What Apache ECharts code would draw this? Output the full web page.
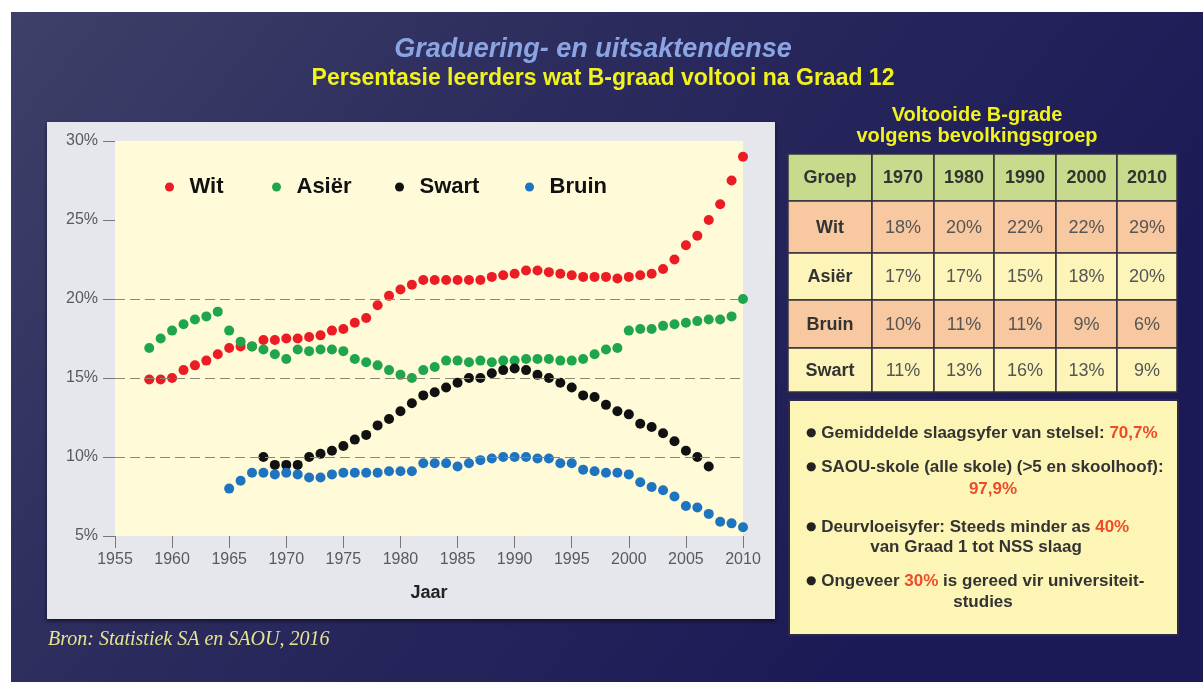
<!DOCTYPE html>
<html><head><meta charset="utf-8">
<script src="https://cdn.jsdelivr.net/npm/echarts@6/dist/echarts.min.js"></script>
<style>html,body{margin:0;padding:0;background:#fff;}#c{width:1203px;height:682px;}</style>
</head><body><div id="c"></div>
<script>
// ---------- data ----------
const witStart = 1958;
const wit = [14.9,14.9,15.0,15.5,15.8,16.1,16.5,16.9,17.0,17.0,
             17.4,17.4,17.5,17.5,17.6,17.7,18.0,18.1,18.5,18.8,
             19.6,20.2,20.6,20.9,21.2,21.2,21.2,21.2,21.2,21.2,
             21.4,21.5,21.6,21.8,21.8,21.7,21.6,21.5,21.4,21.4,
             21.4,21.3,21.4,21.5,21.6,21.9,22.5,23.4,24.0,25.0,
             26.0,27.5,29.0];
const asierStart = 1958;
const asier = [16.9,17.5,18.0,18.4,18.7,18.9,19.2,18.0,17.3,17.0,
               16.8,16.5,16.2,16.8,16.7,16.8,16.8,16.7,16.2,16.0,
               15.8,15.5,15.2,15.0,15.5,15.7,16.1,16.1,16.0,16.1,
               16.0,16.1,16.1,16.2,16.2,16.2,16.1,16.1,16.2,16.5,
               16.8,16.9,18.0,18.1,18.1,18.3,18.4,18.5,18.6,18.7,
               18.7,18.9,20.0];
const swartStart = 1968;
const swart = [10.0,9.5,9.5,9.5,10.0,10.2,10.4,10.7,11.1,11.4,
               12.0,12.4,12.9,13.4,13.9,14.1,14.4,14.7,15.0,15.0,
               15.3,15.5,15.6,15.5,15.2,15.0,14.7,14.4,13.9,13.8,
               13.3,12.9,12.7,12.1,11.9,11.5,11.0,10.4,10.0,9.4];
const bruinStart = 1965;
const bruin = [8.0,8.5,9.0,9.0,8.9,9.0,8.9,8.7,8.7,8.9,
               9.0,9.0,9.0,9.0,9.1,9.1,9.1,9.6,9.6,9.6,
               9.4,9.6,9.8,9.9,10.0,10.0,10.0,9.9,9.9,9.6,
               9.6,9.2,9.1,9.0,9.0,8.9,8.4,8.1,7.9,7.5,
               6.9,6.8,6.4,5.9,5.8,5.55];
const seriesNames = ['Wit', 'Asiër', 'Swart', 'Bruin'];
const gridLevels = [10, 15, 20];

const tableTitle = ['Voltooide B-grade', 'volgens bevolkingsgroep'];
const tableHeader = ['Groep', '1970', '1980', '1990', '2000', '2010'];
const tableGroups = ['Wit', 'Asiër', 'Bruin', 'Swart'];
const tableWit   = ['18%', '20%', '22%', '22%', '29%'];
const tableAsier = ['17%', '17%', '15%', '18%', '20%'];
const tableBruin = ['10%', '11%', '11%', '9%', '6%'];
const tableSwart = ['11%', '13%', '16%', '13%', '9%'];

const titleMain = 'Graduering- en uitsaktendense';
const titleSub = 'Persentasie leerders wat B-graad voltooi na Graad 12';
const sourceText = 'Bron: Statistiek SA en SAOU, 2016';
const noteLines = [
  '{bl|●} {t|Gemiddelde slaagsyfer van stelsel: }{r|70,7%}',
  '{bl|●} {t|SAOU-skole (alle skole) (>5 en skoolhoof):}',
  '{r|97,9%}',
  '{bl|●} {t|Deurvloeisyfer: Steeds minder as }{r|40%}',
  '{t|van Graad 1 tot NSS slaag}',
  '{bl|●} {t|Ongeveer }{r|30%}{t| is gereed vir universiteit-}',
  '{t|studies}'
];

// ---------- chart ----------
const FONT = '"Liberation Sans", Arial, sans-serif';
const COLORS = ['#ec1c24', '#1fa54c', '#111111', '#1e74bf'];
function pairs(start, vals) { return vals.map((v, i) => [start + i, v]); }
const seriesData = [pairs(witStart, wit), pairs(asierStart, asier), pairs(swartStart, swart), pairs(bruinStart, bruin)];

const chart = echarts.init(document.getElementById('c'));

const graphics = [];
// background
graphics.push({type:'rect', z:-100, shape:{x:11, y:12, width:1192, height:670},
  style:{fill:new echarts.graphic.LinearGradient(0,0,0.7,1,[
    {offset:0,color:'#3f4068'},{offset:0.45,color:'#2b2b5d'},{offset:1,color:'#1c1a56'}])}});
// chart panel
graphics.push({type:'rect', z:-90, shape:{x:47, y:122, width:728, height:497},
  style:{fill:'#e5e7ec', shadowBlur:4, shadowOffsetY:2, shadowColor:'rgba(0,0,0,0.6)'}});
// titles
graphics.push({type:'text', x:593, y:50, style:{text:titleMain, fill:'#8ba5e2',
  font:'italic bold 27px ' + FONT, align:'center', verticalAlign:'middle'}});
graphics.push({type:'text', x:603, y:79, style:{text:titleSub, fill:'#f2f21c',
  font:'bold 23px ' + FONT, align:'center', verticalAlign:'middle'}});
// table title
tableTitle.forEach((t, i) => graphics.push({type:'text', x:977, y:115 + i*21,
  style:{text:t, fill:'#f2f21c', font:'bold 20px ' + FONT, align:'center', verticalAlign:'middle'}}));
// table
const colX = [788, 872, 934, 994, 1056, 1117, 1177];
const rowY = [154, 201, 253, 300, 348, 392];
const rowFill = ['#c8db8d', '#f8c9a1', '#fcf4b9', '#f8c9a1', '#fcf4b9'];
const tableRows = [tableHeader,
  [tableGroups[0]].concat(tableWit),
  [tableGroups[1]].concat(tableAsier),
  [tableGroups[2]].concat(tableBruin),
  [tableGroups[3]].concat(tableSwart)];
tableRows.forEach((row, r) => {
  row.forEach((cell, c) => {
    const x0 = colX[c], x1 = colX[c+1], y0 = rowY[r], y1 = rowY[r+1];
    graphics.push({type:'rect', shape:{x:x0, y:y0, width:x1-x0, height:y1-y0},
      style:{fill:rowFill[r], stroke:'#33323f', lineWidth:1.5}});
    const bold = (r === 0 || c === 0);
    graphics.push({type:'text', x:(x0+x1)/2, y:(y0+y1)/2 + 1,
      style:{text:cell, fill: bold ? '#333333' : '#555555',
        font:(bold ? 'bold ' : '') + '18px ' + FONT, align:'center', verticalAlign:'middle'}});
  });
});
// notes box
graphics.push({type:'rect', shape:{x:789, y:400, width:389, height:235},
  style:{fill:'#fdf5b5', stroke:'#2b2b45', lineWidth:2}});
const richStyle = {
  bl:{fontSize:12, fill:'#222', color:'#222', fontFamily:'"DejaVu Sans", sans-serif'},
  t:{fontSize:17, fontWeight:'bold', fill:'#333', color:'#333', fontFamily:FONT},
  r:{fontSize:17, fontWeight:'bold', fill:'#ee4b2b', color:'#ee4b2b', fontFamily:FONT}
};
const noteX = [806, 806, 993, 806, 976, 806, 983];
const noteY = [433, 467, 489, 527, 547, 581, 602];
noteLines.forEach((ln, i) => {
  const left = ln.indexOf('{bl|') === 0;
  graphics.push({type:'text', x:noteX[i], y:noteY[i], style:{text:ln, rich:richStyle,
    font:'bold 17px ' + FONT, align:left ? 'left' : 'center', verticalAlign:'middle'}});
});
// source
graphics.push({type:'text', x:48, y:640, style:{text:sourceText, fill:'#e6e48e',
  font:'italic 20px "Liberation Serif", "Times New Roman", serif', align:'left', verticalAlign:'middle',
  shadowBlur:2, shadowColor:'rgba(0,0,0,0.8)', shadowOffsetX:1, shadowOffsetY:1}});

const legendLeft = [165, 272, 395, 525];

const option = {
  backgroundColor:'#ffffff',
  animation:false,
  grid:{left:115, top:141, width:628, height:395, show:true, backgroundColor:'#fffad8', borderWidth:0},
  xAxis:{type:'value', min:1955, max:2010, interval:5,
    name:'Jaar', nameLocation:'middle', nameGap:48,
    nameTextStyle:{fontSize:18, fontWeight:'bold', color:'#222', fontFamily:FONT},
    axisLine:{show:false},
    axisTick:{show:true, length:12, lineStyle:{color:'#777'}},
    axisLabel:{margin:16, fontSize:16, color:'#5a5a5a', fontFamily:FONT, formatter: v => String(v)},
    splitLine:{show:false}},
  yAxis:{type:'value', min:5, max:30, interval:5,
    axisLine:{show:false},
    axisTick:{show:true, length:12, lineStyle:{color:'#777'}},
    axisLabel:{margin:17, fontSize:16, color:'#5a5a5a', fontFamily:FONT, formatter:'{value}%'},
    splitLine:{show:false}},
  legend: seriesNames.map((n, i) => ({data:[n], left:legendLeft[i], top:176, padding:0,
    itemWidth:30, itemHeight:9, icon:'circle', selectedMode:false,
    textStyle:{fontSize:22, fontWeight:'bold', color:'#111', fontFamily:FONT}})),
  series: [
    {type:'line', data:[], z:1, silent:true,
     markLine:{silent:true, symbol:'none', animation:false, label:{show:false},
       lineStyle:{type:[10,5], color:'#8c8672', width:1},
       data: gridLevels.map(v => ({yAxis:v}))}}
  ].concat(seriesNames.map((n, i) => ({
    name:n, type:'scatter', data:seriesData[i], symbolSize:10,
    itemStyle:{color:COLORS[i], opacity:1}
  }))),
  graphic:{elements:graphics}
};
chart.setOption(option);
</script></body></html>
